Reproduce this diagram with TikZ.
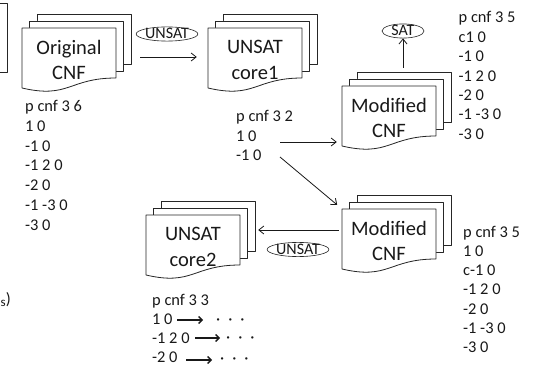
\documentclass[tikz,border=0pt]{standalone}
\usepackage{fontspec}
\setmainfont{Carlito}
\usetikzlibrary{arrows.meta,calc,shapes.geometric}

\tikzset{
 docline/.style={draw=black!85, line width=0.8pt, fill=white, line join=round},
 doctext/.style={font=\fontsize{20.5}{25.5}\selectfont, align=center, inner sep=0pt, text=black!90},
 docframe/.style={minimum width=109pt, minimum height=74pt, inner sep=0pt},
 small/.style={font=\fontsize{16.4}{19.5}\selectfont, inner sep=0pt, anchor=base west, text=black!90},
 arr/.style={line width=0.8pt, draw=black!90, -{Straight Barb[length=5pt,width=8pt]}},
 tag/.style={ellipse, draw=black!85, line width=0.6pt, inner sep=0pt, text height=10pt, text depth=0pt, font=\fontsize{16}{19}\selectfont, text=black!90},
 barr/.style={line width=1.1pt, draw=black!90, -{Straight Barb[length=3.5pt,width=7pt,line width=1.3pt]}},
}

% name, left, top, line 1, line 2
\newcommand{\multidoc}[5]{%
  \draw[docline] (#2+15,#3-7) -- (#2+15,#3-14) -- (#2+109,#3-14) -- (#2+109,#3+36) -- (#2+101.5,#3+36);
  \draw[docline] (#2+7.5,#3) -- (#2+7.5,#3-7) -- (#2+101.5,#3-7) -- (#2+101.5,#3+43) -- (#2+94,#3+43);
  \draw[docline] (#2,#3) -- (#2+94,#3) -- (#2+94,#3+50)
     .. controls (#2+47,#3+50) and (#2+47,#3+71) .. (#2,#3+60) -- cycle;
  \node[docframe] (#1) at (#2+54.5,#3+23) {};
  \node[doctext] (#1t) at (#2+47,#3+32) {#4\\#5};
}

\begin{document}
\begin{tikzpicture}[x=1pt, y=-1pt]
\useasboundingbox (0,0) rectangle (535,366);
\fill[white] (0,0) rectangle (535,366);
\clip (0,0) rectangle (535,366);

% cut-off box at the left edge
\draw[docline] (-20,3) rectangle (7.5,72);
\node[small, anchor=base east] (cut) at (11,304.5) {\raisebox{-2pt}{\fontsize{13}{13}\selectfont s})};

\multidoc{orig}{22}{28}{Original}{CNF}
\multidoc{core1}{208}{28}{UNSAT}{core1}
\multidoc{modtop}{342}{86}{Modified}{CNF}
\multidoc{modbot}{342}{209}{Modified}{CNF}
\multidoc{core2}{146}{215}{UNSAT}{core2}

% tags
\node[tag] (u1) at (167,34) {UNSAT};
\node[tag, minimum width=42pt] (sat) at (403,31) {SAT};
\node[tag] (u2) at (298,249.5) {UNSAT};

% text blocks
\foreach \t [count=\i] in {p cnf 3 6, 1 0, -1 0, -1 2 0, -2 0, -1 -3 0, -3 0}
  \node[small] (ot\i) at (25,{111.5+19.8*(\i-1)}) {\t};
\foreach \t [count=\i] in {p cnf 3 5, c1 0, -1 0, -1 2 0, -2 0, -1 -3 0, -3 0}
  \node[small] (rt\i) at (458.5,{23+19.4*(\i-1)}) {\t};
\foreach \t [count=\i] in {p cnf 3 2, 1 0, -1 0}
  \node[small] (mt\i) at (236,{122+19.5*(\i-1)}) {\t};
\foreach \t [count=\i] in {p cnf 3 5, 1 0, c-1 0, -1 2 0, -2 0, -1 -3 0, -3 0}
  \node[small] (rb\i) at (463,{237+19.3*(\i-1)}) {\t};
\foreach \t [count=\i] in {p cnf 3 3, 1 0, -1 2 0, -2 0}
  \node[small] (bt\i) at (152,{305+19.3*(\i-1)}) {\t};

% dots
\node[small] (d1) at (216,324.3) {·\hspace{8pt}·\hspace{8pt}·};
\node[small] (d2) at (226,342) {·\hspace{8pt}·\hspace{8pt}·};
\node[small] (d3) at (220,363) {·\hspace{8pt}·\hspace{8pt}·};

% main connectors
\draw[arr] ($(orig.east)+(9,6)$) -- ($(core1.west)+(-11,6)$);
\draw[arr] ($(modtop.north)+(6.5,-4)$) -- (sat.south);
\coordinate (m1) at (280,142);
\draw[arr, shorten >=5pt] (m1) -- (m1 -| modtop.west);
\coordinate (m2) at (280,157);
\draw[arr, shorten >=6pt] (m2) -- ($(modbot.north west)+(0,14)$);
\draw[arr] ($(modbot.west)+(-3,-2)$) -- ($(core2.east)+(3,-8)$);

% small arrows
\coordinate (b1) at (177,320);
\coordinate (b2) at (195,338);
\coordinate (b3) at (186,360);
\draw[barr, shorten >=13pt] (b1) -- (b1 -| d1.west);
\draw[barr, shorten >=6pt] (b2) -- (b2 -| d2.west);
\draw[barr, shorten >=8pt] (b3) -- (b3 -| d3.west);
\end{tikzpicture}
\end{document}
